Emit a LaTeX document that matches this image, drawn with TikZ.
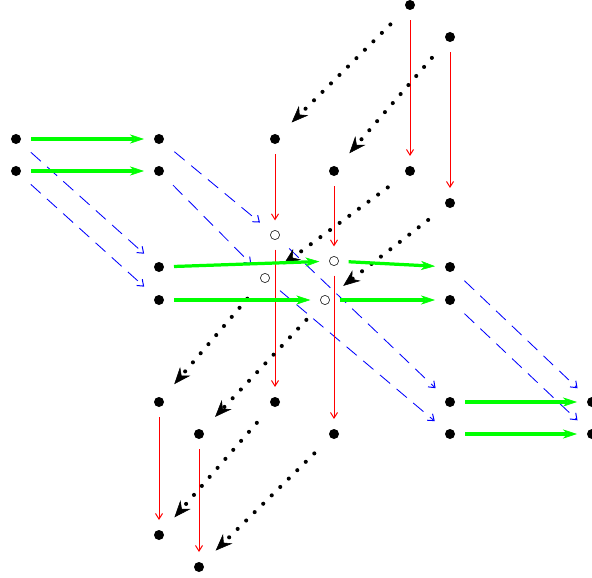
\documentclass[tikz,border=0pt]{standalone}
\usepackage{tikz}
\usetikzlibrary{arrows.meta}
\definecolor{hGreen}{HTML}{00FF00}
\definecolor{hRed}{HTML}{FF0000}
\definecolor{hBlue}{HTML}{0000FF}
\definecolor{hRing}{HTML}{333333}

\begin{document}
\begin{tikzpicture}[x=0.025cm, y=-0.025cm,
  vtx/.style={circle, fill=black, inner sep=0pt, minimum size=0.25cm, outer sep=0.25cm},
  hole/.style={circle, draw=hRing, line width=0.5pt, inner sep=0pt, minimum size=0.23cm, outer sep=0.25cm},
  hor/.style={-{Stealth[length=10pt, width=6.5pt, inset=3pt, line width=0.4pt]}, hGreen, line width=2.3pt},
  dia/.style={-{Straight Barb[length=4pt, width=6pt, line width=0.7pt]}, hBlue, line width=0.6pt,
              dash pattern=on 9.5pt off 6pt, shorten <=3.5pt, shorten >=3.5pt},
  ver/.style={-{Straight Barb[length=4pt, width=5pt, line width=0.7pt]}, hRed, line width=0.6pt},
  back/.style={-{Stealth[length=12pt, width=9.5pt, inset=4pt, line width=0.4pt, sep=3pt]}, black, line width=2.9pt,
               line cap=round, dash pattern=on 0pt off 8.5pt, shorten <=9pt, shorten >=3pt}]
  \useasboundingbox (0,0) rectangle (592,578);

  % vertices
  \node[vtx] (t1) at (410,5) {};
  \node[vtx] (t2) at (450,37) {};
  \node[vtx] (a1) at (275,139) {};
  \node[vtx] (a2) at (334,171) {};
  \node[vtx] (b1) at (410,171) {};
  \node[vtx] (b2) at (450,203) {};
  \node[vtx] (l1) at (16,139) {};
  \node[vtx] (l2) at (16,171) {};
  \node[vtx] (m1) at (159,139) {};
  \node[vtx] (m2) at (159,171) {};
  \node[vtx] (n1) at (159,267) {};
  \node[vtx] (n2) at (159,300) {};
  \node[vtx] (r1) at (450,267) {};
  \node[vtx] (r2) at (450,300) {};
  \node[vtx] (p1) at (159,402) {};
  \node[vtx] (p2) at (199,434) {};
  \node[vtx] (q1) at (275,402) {};
  \node[vtx] (q2) at (334,434) {};
  \node[vtx] (s1) at (450,402) {};
  \node[vtx] (s2) at (450,434) {};
  \node[vtx] (e1) at (592,402) {};
  \node[vtx] (e2) at (592,434) {};
  \node[vtx] (u1) at (159,535) {};
  \node[vtx] (u2) at (199,567) {};
  % crossings
  \node[hole] (c1) at (275,235) {};
  \node[hole] (c2) at (334,261) {};
  \node[hole] (c3) at (265,278) {};
  \node[hole] (c4) at (325,300) {};

  % diagonal dashed
  \draw[dia] (l1) -- (n1);
  \draw[dia] (l2) -- (n2);
  \draw[dia] (m1) -- (c1);
  \draw[dia] (m2) -- (c3);
  \draw[dia] (c1) -- (s1);
  \draw[dia] (c3) -- (s2);
  \draw[dia] (r1) -- (e1);
  \draw[dia] (r2) -- (e2);

  % vertical
  \draw[ver] (t1) -- (b1);
  \draw[ver] (t2) -- (b2);
  \draw[ver] (a1) -- (c1);
  \draw[ver] (a2) -- (c2);
  \draw[ver] (c1) -- (q1);
  \draw[ver] (c2) -- (q2);
  \draw[ver] (p1) -- (u1);
  \draw[ver] (p2) -- (u2);

  % dotted, towards the front
  \draw[back] (t1) -- (a1);
  \draw[back] (t2) -- (a2);
  \draw[back] (b1) -- (c3);
  \draw[back] (b2) -- (c4);
  \draw[back] (c3) -- (p1);
  \draw[back] (c4) -- (p2);
  \draw[back] (q1) -- (u1);
  \draw[back] (q2) -- (u2);

  % horizontal
  \draw[hor] (l1) -- (m1);
  \draw[hor] (l2) -- (m2);
  \draw[hor] (n1) -- (c2);
  \draw[hor] (c2) -- (r1);
  \draw[hor] (n2) -- (c4);
  \draw[hor] (c4) -- (r2);
  \draw[hor] (s1) -- (e1);
  \draw[hor] (s2) -- (e2);
\end{tikzpicture}
\end{document}
